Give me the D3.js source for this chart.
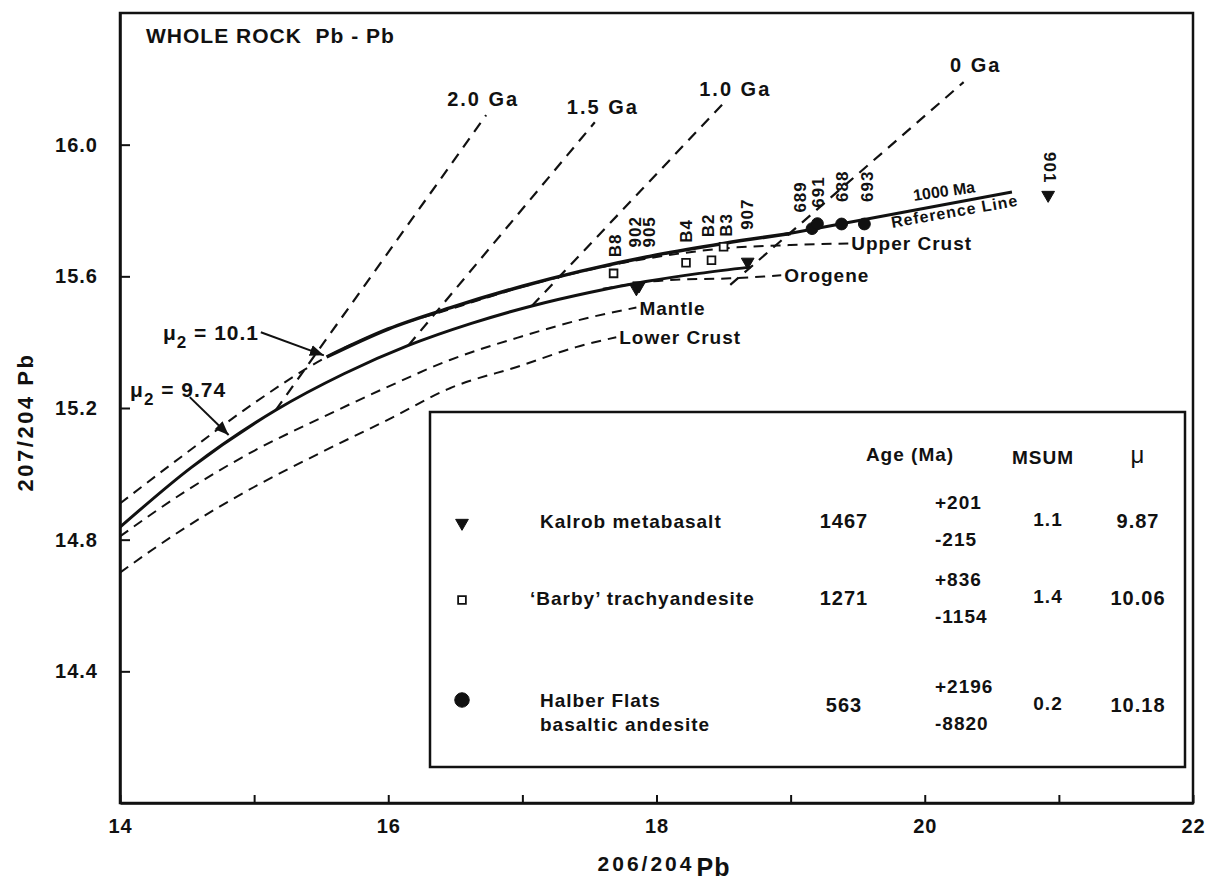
<!DOCTYPE html>
<html>
<head>
<meta charset="utf-8">
<script src="https://cdn.jsdelivr.net/npm/d3@7"></script>
<style>
  body { margin: 0; background: #fff; }
  text { font-family: "Liberation Sans", Arial, sans-serif; font-weight: bold; fill: #111; letter-spacing: 1px; }
</style>
</head>
<body>
<svg id="chart" width="1219" height="885"></svg>
<script>
// growth curves, as [206/204, 207/204]
const mu974 = [[14.0,14.838],[14.53,15.019],[15.16,15.193],[15.67,15.304],[16.15,15.390],[16.62,15.457],[17.07,15.510],[17.50,15.551],[17.92,15.584],[18.32,15.609],[18.70,15.628]];
const mu101 = [[15.54,15.355],[16.0,15.44],[16.46,15.504],[17.0,15.57],[17.43,15.615],[18.0,15.665],[18.5,15.70],[19.0,15.73]];
const refLine = [[18.95,15.727],[20.65,15.856]];
const upperCrust = [[14.0,14.91],[14.5,15.065],[15.0,15.215],[15.54,15.355],[16.0,15.44],[16.5,15.505],[17.0,15.568],[17.5,15.62],[17.9,15.652],[18.3,15.676],[18.6,15.688],[19.0,15.695],[19.43,15.70]];
const orogene = [[17.6,15.562],[18.1,15.589],[18.55,15.594],[18.93,15.603]];
const mantle = [[14.0,14.81],[14.5,14.95],[15.0,15.07],[15.5,15.17],[16.0,15.265],[16.46,15.346],[17.0,15.418],[17.5,15.475],[17.85,15.505]];
const lowerCrust = [[14.0,14.70],[14.5,14.84],[15.0,14.96],[15.5,15.065],[16.0,15.165],[16.46,15.26],[17.0,15.33],[17.4,15.385],[17.7,15.415]];

// geochron-type lines
const isoAges = ["2.0 Ga","1.5 Ga","1.0 Ga","0 Ga"];
const isoFrom = [[15.16,15.193],[16.15,15.390],[17.07,15.510],[18.55,15.574]];
const isoTo = [[16.73,16.09],[17.54,16.068],[18.52,16.135],[20.29,16.19]];

// samples
const sampleIds = ["B8","902","905","B4","B2","B3","907","689","691","688","693","901"];
const sampleType = ["barby","kalrob","kalrob","barby","barby","barby","kalrob","halber","halber","halber","halber","kalrob"];
const pb206 = [17.68,17.85,17.87,18.22,18.41,18.50,18.68,19.16,19.20,19.38,19.55,20.92];
const pb207 = [15.609,15.563,15.572,15.641,15.649,15.690,15.644,15.745,15.760,15.759,15.759,15.847];

// legend table
const legTypes = ["kalrob","barby","halber"];
const legNames = [["Kalrob metabasalt"],["\u2018Barby\u2019 trachyandesite"],["Halber Flats","basaltic andesite"]];
const legAge = ["1467","1271","563"];
const legPlus = ["+201","+836","+2196"];
const legMinus = ["-215","-1154","-8820"];
const legMsum = ["1.1","1.4","0.2"];
const legMu = ["9.87","10.06","10.18"];

const xTicks = [14,15,16,17,18,19,20,21,22];
const yTicks = [14.4,14.8,15.2,15.6,16.0];

const svg = d3.select("#chart");
const x = d3.scaleLinear().domain([14, 22]).range([120, 1193]);
const y = d3.scaleLinear().domain([14.0, 16.4]).range([803, 13]);
const line = d3.line().x(d => x(d[0])).y(d => y(d[1])).curve(d3.curveMonotoneX);

// frame
svg.append("rect").attr("x", 120).attr("y", 13).attr("width", 1073).attr("height", 790)
  .attr("fill", "none").attr("stroke", "#111").attr("stroke-width", 2.5);

const xAxis = svg.append("g").attr("transform", "translate(0,803)")
  .call(d3.axisBottom(x).tickValues(xTicks).tickSize(-8).tickSizeOuter(0).tickPadding(16)
    .tickFormat(d => d % 2 === 0 ? d : ""));
const yAxis = svg.append("g").attr("transform", "translate(120,0)")
  .call(d3.axisLeft(y).tickValues(yTicks).tickSize(-10).tickSizeOuter(0).tickPadding(22)
    .tickFormat(d3.format(".1f")));
[xAxis, yAxis].forEach(a => {
  a.select(".domain").attr("stroke", "#111").attr("stroke-width", 2.5);
  a.selectAll(".tick line").attr("stroke", "#111").attr("stroke-width", 2);
  a.selectAll(".tick text").style("font-size", "20px").attr("fill", "#111");
});

// axis titles
svg.append("text").attr("x", 664).attr("y", 871).attr("text-anchor", "middle")
  .style("font-size", "21px").style("letter-spacing", "3px")
  .call(t => { t.append("tspan").text("206/204"); t.append("tspan").attr("dx", 2).attr("dy", 5).style("font-size", "25px").style("letter-spacing", "1px").text("Pb"); });
svg.append("text").attr("transform", "translate(33,422) rotate(-90)").attr("text-anchor", "middle")
  .style("font-size", "22px").style("letter-spacing", "2.5px").text("207/204 Pb");

svg.append("text").attr("x", 146).attr("y", 43).style("font-size", "21px")
  .attr("xml:space", "preserve").text("WHOLE ROCK  Pb - Pb");

// curves
const plot = svg.append("g");
[lowerCrust, mantle, upperCrust, orogene].forEach(c => {
  plot.append("path").datum(c).attr("d", line).attr("fill", "none")
    .attr("stroke", "#111").attr("stroke-width", 2).attr("stroke-dasharray", "10,7");
});
plot.append("path").datum(mu974).attr("d", line).attr("fill", "none")
  .attr("stroke", "#111").attr("stroke-width", 3);
plot.append("path").datum(mu101).attr("d", line).attr("fill", "none")
  .attr("stroke", "#111").attr("stroke-width", 3.5);
plot.append("path").datum(refLine).attr("d", line).attr("fill", "none")
  .attr("stroke", "#111").attr("stroke-width", 3);

// age lines
const isoLabelDx = [-3, 8, 9, 12], isoLabelDy = [-9, -8, -4, -10];
isoAges.forEach((a, i) => {
  plot.append("line").attr("x1", x(isoFrom[i][0])).attr("y1", y(isoFrom[i][1]))
    .attr("x2", x(isoTo[i][0])).attr("y2", y(isoTo[i][1]))
    .attr("stroke", "#111").attr("stroke-width", 2.2).attr("stroke-dasharray", "11,8");
  plot.append("text").attr("x", x(isoTo[i][0]) + isoLabelDx[i]).attr("y", y(isoTo[i][1]) + isoLabelDy[i])
    .attr("text-anchor", "middle").style("font-size", "20px").style("letter-spacing", "2px").text(a);
});

// curve labels
const curveLabels = [
  {t: "Upper Crust", at: upperCrust[upperCrust.length - 1]},
  {t: "Orogene", at: orogene[orogene.length - 1]},
  {t: "Mantle", at: mantle[mantle.length - 1]},
  {t: "Lower Crust", at: lowerCrust[lowerCrust.length - 1]}
];
curveLabels.forEach(c => {
  plot.append("text").attr("x", x(c.at[0]) + 3).attr("y", y(c.at[1]) + 7)
    .style("font-size", "19px").text(c.t);
});
plot.append("text").attr("transform", `translate(${x(19.92)},${y(15.829)}) rotate(-8)`)
  .style("font-size", "16px").style("letter-spacing", "0px").text("1000 Ma");
plot.append("text").attr("transform", `translate(${x(19.757)},${y(15.747)}) rotate(-10)`)
  .style("font-size", "16px").text("Reference Line");

// mu annotations
const defs = svg.append("defs");
defs.append("marker").attr("id", "ah").attr("viewBox", "0 0 10 10").attr("refX", 10).attr("refY", 5)
  .attr("markerWidth", 7).attr("markerHeight", 7).attr("orient", "auto")
  .append("path").attr("d", "M0,1L10,5L0,9Z").attr("fill", "#111");
const muNotes = [
  {label: "10.1", tx: 14.32, ty: 15.407, from: [15.05, 15.43], to: [15.52, 15.36]},
  {label: "9.74", tx: 14.075, ty: 15.232, from: [14.52, 15.233], to: [14.81, 15.118]}
];
muNotes.forEach(m => {
  const t = plot.append("text").attr("x", x(m.tx)).attr("y", y(m.ty)).style("font-size", "21px");
  t.append("tspan").text("\u03bc");
  t.append("tspan").attr("dy", 8).style("font-size", "17px").text("2");
  t.append("tspan").attr("dy", -8).attr("xml:space", "preserve").text(" = " + m.label);
  plot.append("line").attr("x1", x(m.from[0])).attr("y1", y(m.from[1]))
    .attr("x2", x(m.to[0])).attr("y2", y(m.to[1]))
    .attr("stroke", "#111").attr("stroke-width", 2).attr("marker-end", "url(#ah)");
});

// markers
const sym = {
  kalrob: {type: d3.symbolTriangle, size: 70, fill: "#111", rot: 180},
  barby: {type: d3.symbolSquare, size: 60, fill: "#fff", rot: 0},
  halber: {type: d3.symbolCircle, size: 110, fill: "#111", rot: 0}
};
function drawSym(g, kind, cx, cy, scale) {
  const s = sym[kind];
  g.append("path").attr("d", d3.symbol().type(s.type).size(s.size * (scale || 1))())
    .attr("transform", `translate(${cx},${cy}) rotate(${s.rot})`)
    .attr("fill", s.fill).attr("stroke", "#111").attr("stroke-width", kind === "barby" ? 1.8 : 1);
}
sampleIds.forEach((id, i) => drawSym(plot, sampleType[i], x(pb206[i]), y(pb207[i])));

// sample labels (offsets in px from each point)
const labDx = [1,-2,10,0,-4,2,-1,-12,0,0,2,2];
const labDy = [-16,-41,-38,-20,-23,-10,-32,-16,-16,-22,-22,-43];
sampleIds.forEach((id, i) => {
  const lx = x(pb206[i]) + labDx[i], ly = y(pb207[i]) + labDy[i];
  const up = id !== "901";
  plot.append("text").attr("transform", `translate(${lx},${ly}) rotate(${up ? -90 : 90})`)
    .attr("dy", "0.36em").style("font-size", "17px").text(id);
});

// legend table
const leg = svg.append("g");
leg.append("rect").attr("x", 430).attr("y", 412).attr("width", 755).attr("height", 355)
  .attr("fill", "#fff").attr("stroke", "#111").attr("stroke-width", 2.5);
leg.append("text").attr("x", 910).attr("y", 461).attr("text-anchor", "middle").style("font-size", "19px").text("Age (Ma)");
leg.append("text").attr("x", 1043).attr("y", 464).attr("text-anchor", "middle").style("font-size", "19px").text("MSUM");
leg.append("text").attr("x", 1138).attr("y", 463).attr("text-anchor", "middle").style("font-size", "24px").style("font-weight", "normal").text("\u03bc");
const rowY = [521, 598, 705];
legTypes.forEach((k, i) => {
  const ry = rowY[i];
  drawSym(leg, k, 462, ry + (i === 2 ? -5 : 2), k === "halber" ? 1.5 : 1);
  legNames[i].forEach((n, j) => {
    leg.append("text").attr("x", k === "barby" ? 530 : 540)
      .attr("y", ry + 7 + (legNames[i].length > 1 ? (j === 0 ? -5 : 19) : 0))
      .style("font-size", "19px").text(n);
  });
  leg.append("text").attr("x", 844).attr("y", ry + 7).attr("text-anchor", "middle").style("font-size", "20px").text(legAge[i]);
  leg.append("text").attr("x", 935).attr("y", ry - 12).style("font-size", "19px").text(legPlus[i]);
  leg.append("text").attr("x", 935).attr("y", ry + 25).style("font-size", "19px").text(legMinus[i]);
  leg.append("text").attr("x", 1048).attr("y", ry + 5).attr("text-anchor", "middle").style("font-size", "19px").text(legMsum[i]);
  leg.append("text").attr("x", 1138).attr("y", ry + 7).attr("text-anchor", "middle").style("font-size", "20px").text(legMu[i]);
});
</script>
</body>
</html>
